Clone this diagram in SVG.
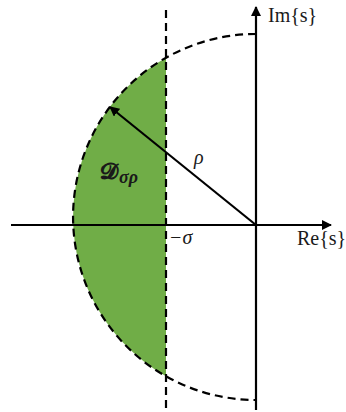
<svg xmlns="http://www.w3.org/2000/svg" width="346" height="412" viewBox="0 0 346 412">
<style>
.dash{fill:none;stroke:#000;stroke-width:2.2;stroke-dasharray:8 5}
.ax{stroke:#000;stroke-width:2.2;fill:none}
.lbl{font-family:"Liberation Serif","DejaVu Serif",serif;font-size:20px;fill:#1a1a1a}
.it{font-style:italic}
</style>
<defs>
<marker id="ah" markerWidth="10" markerHeight="10" viewBox="0 0 10 10" refX="9" refY="5" orient="auto" markerUnits="userSpaceOnUse">
<path d="M0,0 L10,5 L0,10 Z" fill="#000"/>
</marker>
</defs>
<g id="region">
<path d="M166,57.7 A183,183 0 0 0 166,376.3 Z" fill="#70AD47"/>
</g>
<g id="connectors">
<line class="ax" x1="11" y1="225" x2="331" y2="225" marker-end="url(#ah)"/>
<line class="ax" x1="256" y1="410" x2="256" y2="7" marker-end="url(#ah)"/>
<path class="dash" d="M256,34 A183,183 0 0 0 256,400"/>
<line class="dash" x1="166" y1="10" x2="166" y2="408"/>
<line class="ax" x1="256" y1="225" x2="110" y2="107" marker-end="url(#ah)"/>
</g>
<g id="labels">
<text class="lbl" x="268" y="22">Im{s}</text>
<text class="lbl" x="297" y="245">Re{s}</text>
<text class="lbl it" x="169" y="244">−σ</text>
<text class="lbl it" x="194" y="164">ρ</text>
<text class="lbl" x="100" y="179" font-weight="bold"><tspan font-family="'DejaVu Serif','Noto Sans',serif" font-size="23">𝓓</tspan><tspan class="it" font-size="18" dx="1" dy="4">σρ</tspan></text>
</g>
</svg>
